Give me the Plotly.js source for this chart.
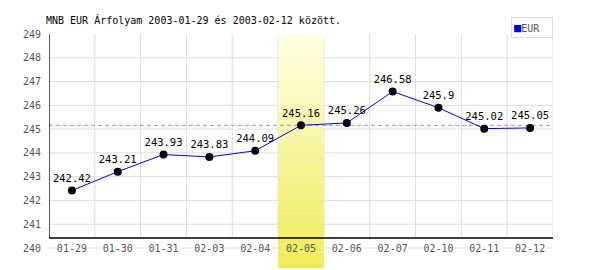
<!DOCTYPE html>
<html><head><meta charset="utf-8">
<script src="https://cdn.plot.ly/plotly-3.0.1.min.js"></script>
<style>html,body{margin:0;padding:0;background:#fff}</style>
</head><body><div id="chart" style="width:600px;height:270px"></div>
<script>
const dates = ['01-29','01-30','01-31','02-03','02-04','02-05','02-06','02-07','02-10','02-11','02-12'];
const eurRates = [242.42,243.21,243.93,243.83,244.09,245.16,245.26,246.58,245.9,245.02,245.05];
const rateLabels = ['242.42','243.21','243.93','243.83','244.09','245.16','245.26','246.58','245.9','245.02','245.05'];
const yTicks = [240,241,242,243,244,245,246,247,248,249];
const highlightIndex = 5;
const seriesName = 'EUR';
const titleText = 'MNB EUR Árfolyam 2003-01-29 és 2003-02-12 között.';

const FONT = '"DejaVu Sans Mono", monospace';
const yMin = yTicks[0], yMax = yTicks[yTicks.length - 1];
const axisBase = 240.42;           // where the drawn x-axis line sits
const n = dates.length;
const xLo = -0.5, xHi = n - 0.5;
const grid = '#dddddd';
const baseFrac = (axisBase - yMin) / (yMax - yMin);
const refValue = eurRates[highlightIndex];

const shapes = [];
// horizontal grid lines
yTicks.slice(1, -1).forEach(v => shapes.push({type:'line', layer:'below', xref:'paper', yref:'y',
  x0:0, x1:1, y0:v, y1:v, line:{color:grid, width:1}}));
// bottom (240) grid segments between tick labels
for (let i = 0; i <= n; i++) {
  const b = i - 0.5;
  shapes.push({type:'line', layer:'below', xref:'x', yref:'paper',
    x0:Math.max(xLo, b - 0.14), x1:Math.min(xHi, b + 0.14), y0:0, y1:0, line:{color:grid, width:1}});
}
// vertical grid lines at category boundaries
for (let i = 1; i <= n; i++) {
  shapes.push({type:'line', layer:'below', xref:'x', yref:'paper',
    x0:i - 0.5, x1:i - 0.5, y0:baseFrac, y1:1, line:{color:grid, width:1}});
}
// highlighted day band (vertical gradient built from strips)
const strips = 30, bandTop = 1, bandBot = -0.0935;
const c0 = [255,255,228], c1 = [238,236,86];
for (let s = 0; s < strips; s++) {
  const t = (s + 0.5) / strips;
  const col = c0.map((c, k) => Math.round(c + (c1[k] - c) * t));
  shapes.push({type:'rect', layer:'below', xref:'x', yref:'paper',
    x0:highlightIndex - 0.5, x1:highlightIndex + 0.5,
    y0:bandTop - (bandTop - bandBot) * (s + 1) / strips - 0.001,
    y1:bandTop - (bandTop - bandBot) * s / strips,
    fillcolor:'rgb(' + col.join(',') + ')', line:{width:0}});
}
// dashed reference line at the highlighted day's rate
shapes.push({type:'line', layer:'below', xref:'paper', yref:'y', x0:0, x1:1, y0:refValue, y1:refValue,
  line:{color:'#8f8fff', width:1, dash:'4px,3px'}});
// axis lines
shapes.push({type:'line', layer:'above', xref:'x', yref:'y', x0:xLo, x1:xLo, y0:axisBase, y1:yMax, line:{color:'#000', width:1.3}});
shapes.push({type:'line', layer:'above', xref:'x', yref:'y', x0:xLo, x1:xHi, y0:axisBase, y1:axisBase, line:{color:'#000', width:1.3}});

const traces = [
  {x:dates, y:eurRates, mode:'lines+markers+text', name:seriesName, showlegend:false,
   text:rateLabels, textposition:'top center', cliponaxis:false,
   textfont:{family:FONT, size:10.5, color:'#000'},
   line:{color:'#0000ff', width:1}, marker:{color:'#000', size:8}}
];

const layout = {
  width:600, height:270,
  margin:{l:49, r:47, t:34, b:22, pad:0},
  paper_bgcolor:'#fff', plot_bgcolor:'#fff',
  showlegend:false,
  title:{text:titleText, xref:'container', x:46/600, xanchor:'left', yref:'container', y:1 - 20/270, yanchor:'middle',
         font:{family:FONT, size:10, color:'#000'}},
  xaxis:{type:'category', categoryorder:'array', categoryarray:dates, range:[xLo, xHi],
         showgrid:false, zeroline:false, showline:false,
         ticks:'', anchor:'free', position:0.035,
         tickfont:{family:FONT, size:10, color:'#555'}, fixedrange:true},
  yaxis:{range:[yMin, yMax], tickvals:yTicks, showgrid:false, zeroline:false, showline:false,
         ticks:'outside', ticklen:5, tickcolor:'rgba(0,0,0,0)',
         tickfont:{family:FONT, size:10, color:'#555'}, fixedrange:true},
  shapes:shapes,
  annotations:[{xref:'paper', yref:'paper', x:1, y:(248-17)/214, xanchor:'right', yanchor:'top',
    text:'<span style="color:#0000dd;font-size:12px">■</span><span style="color:#555">EUR</span>',
    showarrow:false, align:'left', bordercolor:'#dddddd', borderwidth:1, borderpad:2,
    bgcolor:'#fff', width:36, height:15, font:{family:FONT, size:10, color:'#555'}}]
};

Plotly.newPlot('chart', traces, layout, {displayModeBar:false, staticPlot:true});
</script></body></html>
